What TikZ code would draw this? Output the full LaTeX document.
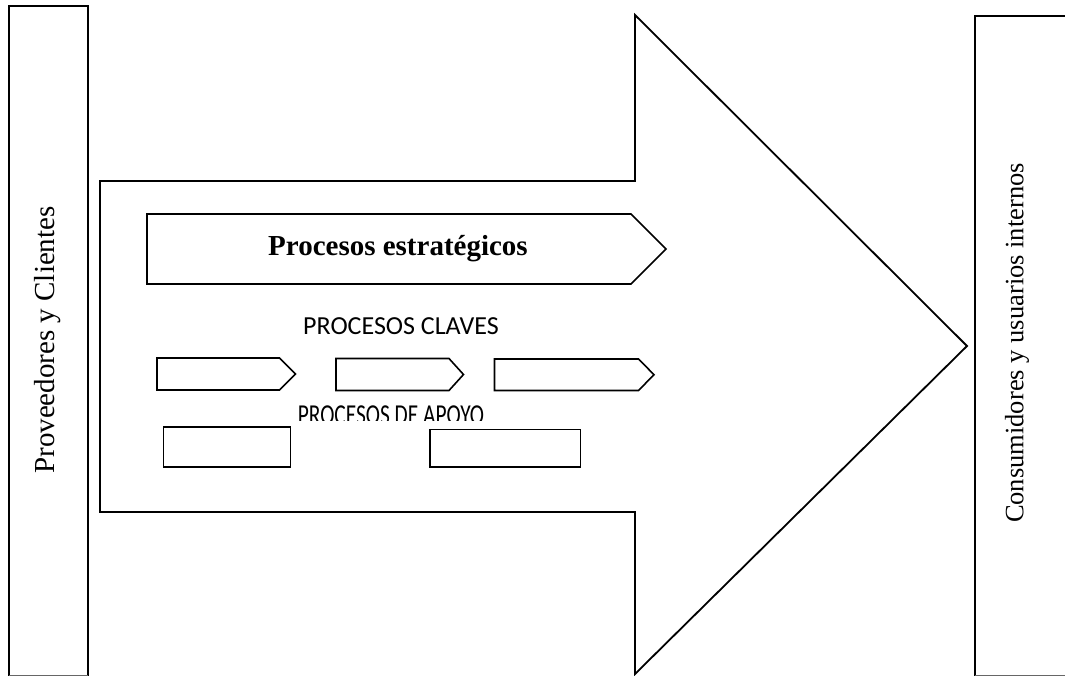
\documentclass[tikz,border=0pt]{standalone}
\usepackage{fontspec}
\setmainfont{Liberation Serif}
\newfontfamily\calib{Carlito}
\begin{document}
\begin{tikzpicture}[x=1pt,y=-1pt,
  outline/.style={draw=black,line width=1.8pt,line join=miter},
  panel/.style={draw=black,line width=2.2pt,line join=miter},
  thinline/.style={draw=black,line width=1.6pt,line join=miter},
  sidetext/.style={rotate=90,font=\fontsize{29}{33}\selectfont,inner sep=0pt},
]
\useasboundingbox (0,0) rectangle (1065,676);

% side panels
\draw[panel] (9,676) -- (9,6) -- (88,6) -- (88,676);
\draw[panel] (975,676) -- (975,16) -- (1066,16);
\draw[black!60,line width=1pt] (9,675.5) -- (88,675.5);
\draw[black!60,line width=1pt] (975,675.5) -- (1065,675.5);
\node[sidetext] (prov) at (48,340) {Proveedores y Clientes};
\node[sidetext,font=\fontsize{26.5}{30}\selectfont] (cons) at (1017,343) {Consumidores y usuarios internos};

% big arrow
\draw[outline] (100,181) -- (635,181) -- (635,15) -- (967,346)
  -- (635,674) -- (635,512) -- (100,512) -- cycle;

% strategic process chevron
\draw[thinline] (147,214) -- (631,214) -- (666,249) -- (631,284) -- (147,284) -- cycle;
\node[font=\bfseries\fontsize{29}{33}\selectfont] (estr) at (398,249) {Procesos estratégicos};

% key processes
\node[font=\calib\fontsize{26}{30}\selectfont] (claves) at (401,326) {PROCESOS CLAVES};
\draw[thinline] (157,358) -- (279.5,358) -- (295.5,374) -- (279.5,390) -- (157,390) -- cycle;
\draw[thinline] (336,358.5) -- (449,358.5) -- (463.5,374.5) -- (449,390.5) -- (336,390.5) -- cycle;
\draw[thinline] (494.5,359) -- (638.5,359) -- (654,374.7) -- (638.5,390.5) -- (494.5,390.5) -- cycle;

% support processes (label partly hidden below the line)
\begin{scope}
  \clip (250,395) rectangle (520,420);
  \node[font=\calib\fontsize{21.4}{25}\selectfont,anchor=base,yscale=1.35] (apoyo) at (391,424) {PROCESOS DE APOYO};
\end{scope}
\draw[thinline] (163.5,427) rectangle (290.5,467);
\draw[thinline] (430,429.5) rectangle (580.5,467);
\end{tikzpicture}
\end{document}
